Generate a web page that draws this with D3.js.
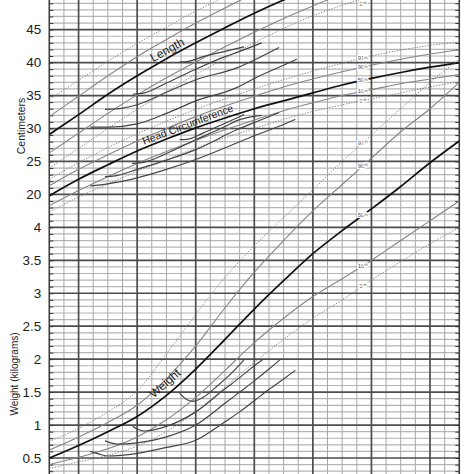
<!DOCTYPE html>
<html><head><meta charset="utf-8">
<script src="https://cdn.jsdelivr.net/npm/d3@7"></script>
<style>
html,body{margin:0;padding:0;background:#fff;}
svg{display:block;font-family:"Liberation Sans",Arial,Helvetica,sans-serif;}
</style></head><body>
<svg id="chart" width="474" height="474"></svg>
<script>
// ---- data ----
const weeks = [22,24,26,28,30,32,34,36,38,40,42,44,46,48,50];

const lengthP3  = [24.0,27.0,30.0,32.9,35.6,38.2,40.6,43.0,45.2,47.1,48.7,50.1,null,null,null];
const lengthP10 = [26.3,29.3,32.3,35.1,37.7,40.1,42.4,44.6,46.7,48.6,50.4,null,null,null,null];
const lengthP50 = [29.1,32.1,35.2,38.0,40.6,43.0,45.3,47.5,49.5,51.3,null,null,null,null,null];
const lengthP90 = [31.8,34.9,38.0,40.9,43.5,46.0,48.3,50.5,null,null,null,null,null,null,null];
const lengthP97 = [34.4,37.3,40.2,42.9,45.4,47.8,50.0,null,null,null,null,null,null,null,null];

const headP3  = [17.3,19.6,21.6,23.5,25.3,27.0,28.6,30.0,31.4,32.6,33.6,34.5,35.4,36.3,37.1];
const headP10 = [18.3,20.6,22.7,24.7,26.5,28.2,29.8,31.3,32.7,33.9,35.0,35.9,36.8,37.5,38.2];
const headP50 = [19.8,22.3,24.5,26.6,28.4,30.1,31.6,33.0,34.2,35.4,36.6,37.6,38.5,39.3,40.0];
const headP90 = [21.3,23.8,26.0,28.1,30.0,31.8,33.4,34.9,36.3,37.5,38.6,39.6,40.5,41.3,42.0];
const headP97 = [22.3,24.8,27.1,29.2,31.1,32.9,34.5,36.0,37.4,38.7,39.9,41.0,41.9,42.6,43.1];

const weightP3  = [0.34,0.44,0.54,0.68,0.90,1.20,1.58,1.95,2.30,2.62,2.90,3.20,3.48,3.75,4.00];
const weightP10 = [0.40,0.51,0.64,0.82,1.08,1.42,1.83,2.25,2.62,2.95,3.22,3.50,3.80,4.10,4.40];
const weightP50 = [0.50,0.69,0.90,1.13,1.45,1.85,2.30,2.76,3.19,3.60,3.95,4.28,4.62,4.98,5.31];
const weightP90 = [0.62,0.82,1.04,1.30,1.70,2.20,2.78,3.32,3.80,4.25,4.65,5.05,5.45,5.80,6.20];
const weightP97 = [0.75,0.95,1.20,1.52,2.08,2.68,3.24,3.72,4.15,4.57,5.00,5.40,5.80,6.20,6.55];

const percentileNames  = ["3","10","50","90","97"];
const percentileSuffix = ["rd","th","th","th","th"];
const percentileLabelWeek = 43.4;

// individual infants: [gestational week, value]
const patient1Length = [[24.8,30.2],[26,30.2],[28,30.7],[30,32.3],[32,34.2],[34.8,36.2],[36,37.6],[38,39.6],[38.9,40.5]];
const patient2Length = [[25.8,32.9],[27,33.1],[28,33.6],[30,35.5],[32,37.4],[34.8,39.2],[36,40.4],[37.7,42.3]];
const patient3Length = [[27.7,35.2],[28.5,35.4],[30,36.9],[32,39.0],[34,40.9],[35,41.7],[36.5,43.0]];
const patient4Length = [[30.9,40.1],[31.5,40.2],[32.5,40.9],[34,41.7],[35.3,42.4]];

const patient1Head = [[24.8,21.3],[26,21.6],[28,22.5],[30,23.8],[32,25.3],[34.8,27.8],[36,28.9],[38,30.6],[38.8,31.4]];
const patient2Head = [[25.8,22.7],[26.5,22.8],[28,23.8],[30,25.2],[32,26.8],[34.8,29.8],[36,30.9],[37.7,32.4]];
const patient3Head = [[27.65,24.7],[28.5,24.9],[30,26.2],[32,28.3],[34,30.3],[34.8,31.2],[36.5,32.0]];
const patient4Head = [[30.9,28.3],[31.5,28.4],[32.5,29.3],[34,30.8],[35.3,32.1]];

const patient1Weight = [[24.8,0.60],[25.4,0.56],[26.0,0.53],[28,0.57],[30,0.66],[32,0.77],[34,1.05],[35,1.20],[36,1.37],[37,1.54],[38,1.70],[38.8,1.83]];
const patient2Weight = [[25.8,0.76],[26.2,0.73],[26.7,0.71],[28,0.73],[30,0.82],[32,1.00],[34,1.33],[35,1.50],[36,1.67],[37,1.85],[37.8,2.00]];
const patient3Weight = [[27.7,0.98],[28.0,0.94],[28.5,0.91],[30,0.98],[32,1.20],[34,1.55],[35,1.72],[36,1.90],[36.6,2.00]];
const patient4Weight = [[30.9,1.48],[31.3,1.40],[31.8,1.36],[32.5,1.42],[33.5,1.60],[34.5,1.80],[35.3,1.99]];

const cmTicks = [20,25,30,35,40,45];
const kgTicks = [0.5,1,1.5,2,2.5,3,3.5,4];

// ---- scales ----
const svg = d3.select("#chart");
const W = 474, H = 474;
const x = d3.scaleLinear().domain([22,50]).range([49.3,459.3]);
// one continuous grid: 0.1 kg per minor line = 1 cm per minor line
const yUnit = d3.scaleLinear().domain([0,7.5]).range([490.95,-3.3]);
const yKg = d3.scaleLinear().domain([0,7.5]).range([yUnit(0), yUnit(7.5)]);
const yCm = d3.scaleLinear().domain([20,50]).range([yUnit(4.5), yUnit(7.5)]);

svg.append("rect").attr("width",W).attr("height",H).attr("fill","#fff");

const defs = svg.append("defs");
defs.append("clipPath").attr("id","plot").append("rect")
  .attr("x",x(22)).attr("y",-10).attr("width",x(50)-x(22)).attr("height",H+20);

// ---- grid ----
const grid = svg.append("g");
const units = d3.range(0,76).map(i=>i/10);
grid.selectAll("line.hmin").data(units.filter((u,i)=>i%5!==0)).join("line")
  .attr("x1",x(22)).attr("x2",x(50)).attr("y1",d=>yUnit(d)).attr("y2",d=>yUnit(d))
  .attr("stroke","#b4b4b4").attr("stroke-width",1.2);
const wk = d3.range(22,51);
grid.selectAll("line.vmin").data(wk.filter(w=>w%4!==0)).join("line")
  .attr("x1",d=>x(d)).attr("x2",d=>x(d)).attr("y1",0).attr("y2",H)
  .attr("stroke","#a8a8a8").attr("stroke-width",1);
grid.selectAll("line.hmaj").data(units.filter((u,i)=>i%5===0)).join("line")
  .attr("x1",x(22)).attr("x2",x(50)).attr("y1",d=>yUnit(d)).attr("y2",d=>yUnit(d))
  .attr("stroke","#4d4d4d").attr("stroke-width",1.7);
grid.selectAll("line.vmaj").data(wk.filter(w=>w%4===0)).join("line")
  .attr("x1",d=>x(d)).attr("x2",d=>x(d)).attr("y1",0).attr("y2",H)
  .attr("stroke","#4d4d4d").attr("stroke-width",1.7);
[22,50].forEach(w=>{
  grid.append("line").attr("x1",x(w)).attr("x2",x(w)).attr("y1",0).attr("y2",H)
    .attr("stroke","#3a3a3a").attr("stroke-width",1.5);
});

// inner ticks (library axes)
const tickAxisL = d3.axisRight(yUnit).tickValues(units).tickSize(4).tickFormat("");
const tickAxisR = d3.axisLeft(yUnit).tickValues(units).tickSize(4).tickFormat("");
const gl = svg.append("g").attr("transform",`translate(${x(22)},0)`).call(tickAxisL);
const gr = svg.append("g").attr("transform",`translate(${x(50)},0)`).call(tickAxisR);
[gl,gr].forEach(g=>{ g.select(".domain").remove(); g.selectAll("line").attr("stroke","#333").attr("stroke-width",1); });

// tick labels
const axCm = svg.append("g").attr("transform",`translate(${x(22)},0)`)
  .call(d3.axisLeft(yCm).tickValues(cmTicks).tickSize(0).tickPadding(8).tickFormat(d3.format("d")));
const axKg = svg.append("g").attr("transform",`translate(${x(22)},0)`)
  .call(d3.axisLeft(yKg).tickValues(kgTicks).tickSize(0).tickPadding(8).tickFormat(d=>String(d)));
[axCm,axKg].forEach(g=>{
  g.select(".domain").remove();
  g.selectAll("text").attr("font-size",13.5).attr("fill","#222")
    .attr("font-family",'"Liberation Sans",Arial,sans-serif');
});

// axis titles
svg.append("text").attr("transform","translate(25,126) rotate(-90)")
  .attr("text-anchor","middle").attr("font-size",10.5).attr("fill","#222").text("Centimeters");
svg.append("text").attr("transform","translate(17.5,374) rotate(-90)")
  .attr("text-anchor","middle").attr("font-size",10).attr("fill","#222").text("Weight (kilograms)");

// ---- curves ----
const plot = svg.append("g").attr("clip-path","url(#plot)");
const families = [
  {scale:yCm, sets:[lengthP3,lengthP10,lengthP50,lengthP90,lengthP97]},
  {scale:yCm, sets:[headP3,headP10,headP50,headP90,headP97]},
  {scale:yKg, sets:[weightP3,weightP10,weightP50,weightP90,weightP97]}
];
function styleFor(i){
  if(i===2) return {stroke:"#111", w:1.7, dash:null};
  if(i===1||i===3) return {stroke:"#858585", w:1.1, dash:null};
  return {stroke:"#858585", w:1.0, dash:"1.3,1.5"};
}
families.forEach(f=>{
  const line = d3.line().defined(d=>d[1]!=null)
    .x(d=>x(d[0])).y(d=>f.scale(d[1])).curve(d3.curveMonotoneX);
  f.sets.forEach((vals,i)=>{
    const pts = weeks.map((w,j)=>[w,vals[j]]).filter(d=>d[1]!=null);
    const s = styleFor(i);
    plot.append("path").datum(pts).attr("d",line).attr("fill","none")
      .attr("stroke",s.stroke).attr("stroke-width",s.w)
      .attr("stroke-dasharray",s.dash);
  });
});

const patients = [
  {scale:yCm, sets:[patient1Length,patient2Length,patient3Length,patient4Length]},
  {scale:yCm, sets:[patient1Head,patient2Head,patient3Head,patient4Head]},
  {scale:yKg, sets:[patient1Weight,patient2Weight,patient3Weight,patient4Weight]}
];
patients.forEach(p=>{
  const line = d3.line().x(d=>x(d[0])).y(d=>p.scale(d[1])).curve(d3.curveMonotoneX);
  p.sets.forEach(pts=>{
    plot.append("path").datum(pts).attr("d",line).attr("fill","none")
      .attr("stroke","#444").attr("stroke-width",1.2);
  });
});

// ---- labels ----
function valueAt(vals, w){
  for(let j=0;j<weeks.length-1;j++){
    if(w>=weeks[j] && w<=weeks[j+1]){
      if(vals[j]==null||vals[j+1]==null) return null;
      const t=(w-weeks[j])/(weeks[j+1]-weeks[j]);
      return vals[j]+(vals[j+1]-vals[j])*t;
    }
  }
  return null;
}
const labG = svg.append("g");
families.forEach(f=>{
  f.sets.forEach((vals,i)=>{
    const v = valueAt(vals, percentileLabelWeek);
    if(v==null) return;
    const yy = Math.max(f.scale(v)+2, 6);
    const t = labG.append("text")
      .attr("x",x(percentileLabelWeek)).attr("y",yy)
      .attr("text-anchor","middle").attr("font-size",6).attr("fill","#555")
      .attr("stroke","#fff").attr("stroke-width",2.6).attr("paint-order","stroke")
      .attr("stroke-linejoin","round");
    t.append("tspan").text(percentileNames[i]);
    t.append("tspan").attr("font-size",4).attr("dy",-1.6).text(percentileSuffix[i]);
  });
});

function curveLabel(text, vals, scale, w, dy, size){
  const v = valueAt(vals,w);
  const a = valueAt(vals,w-0.5), b = valueAt(vals,w+0.5);
  const ang = Math.atan2(scale(b)-scale(a), x(w+0.5)-x(w-0.5))*180/Math.PI;
  svg.append("text")
    .attr("transform",`translate(${x(w)},${scale(v)}) rotate(${ang})`)
    .attr("y",dy).attr("text-anchor","middle").attr("font-size",size)
    .attr("fill","#1a1a1a").text(text);
}
curveLabel("Length", lengthP50, yCm, 30.3, -3.4, 12);
curveLabel("Head Circumference", headP50, yCm, 31.6, -2.4, 10.5);
curveLabel("Weight", weightP50, yKg, 30.35, -6, 12);
</script>
</body></html>
